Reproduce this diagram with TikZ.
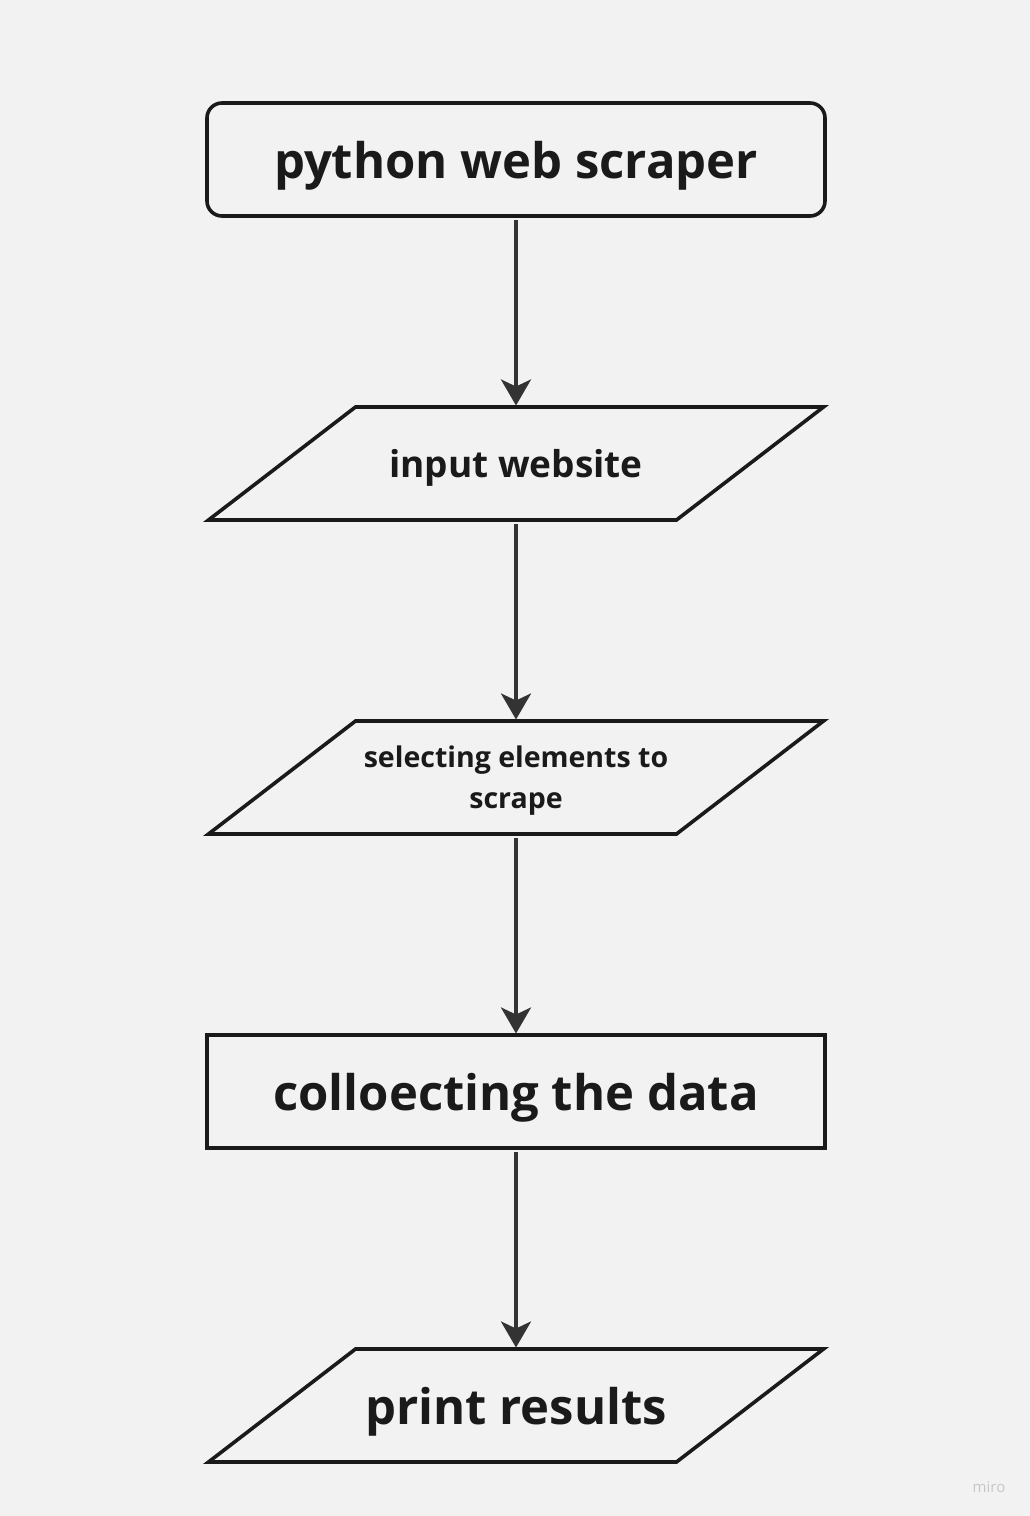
\documentclass[tikz,border=0pt]{standalone}
\usepackage{fontspec}
\setmainfont{Open Sans}
\usetikzlibrary{positioning,arrows.meta}
\definecolor{paper}{HTML}{F2F2F2}
\definecolor{ink}{HTML}{1A1A1A}
\definecolor{wire}{HTML}{333333}
\tikzset{
flow/.style={
    x=1pt,
    y=-1pt,
    node distance=201pt,
    line width=3.6pt,
    outer sep=0pt
},
start/.style={
    rectangle,
    rounded corners=15pt,
    draw=ink,
    text=ink,
    text depth=0pt,
    minimum width=618pt,
    minimum height=113pt,
    font=\fontsize{49}{58}\selectfont\bfseries
},
process/.style={
    rectangle,
    draw=ink,
    text=ink,
    text depth=0pt,
    minimum width=618pt,
    minimum height=113pt,
    font=\fontsize{49}{58}\selectfont\bfseries
},
io/.style={
    rectangle,
    text=ink,
    text depth=0pt,
    minimum width=468pt,
    minimum height=113pt,
    inner xsep=0pt
},
ioline/.style={
    draw=ink,
    line join=miter
},
goes/.style={
    draw=wire,
    -{Stealth[length=26pt,width=30pt,inset=7pt]},
    shorten <=4pt,
    shorten >=1.5pt
}}
% slanted outline round an io node
\newcommand{\ioframe}[1]{%
  \draw[ioline] ([xshift=-73.5pt]#1.south west) -- ([xshift=-73.5pt]#1.south east)
    -- ([xshift=73.5pt]#1.north east) -- ([xshift=73.5pt]#1.north west) -- cycle;}

\begin{document}
\begin{tikzpicture}[flow]
\fill[paper] (0,0) rectangle (1030,1516);
\useasboundingbox (0,0) rectangle (1030,1516);

\node    (title)   [start] at (516,159.5)       {python web scraper};
\node    (site)    [io, below=191pt of title, font=\fontsize{37}{44}\selectfont\bfseries]  {input website};
\node    (pick)    [io, below=of site, align=center, font=\fontsize{28.5}{41}\selectfont\bfseries]  {selecting elements to\\scrape};
\node    (collect) [process, below=of pick]     {colloecting the data};
\node    (output)  [io, below=of collect, font=\fontsize{49}{58}\selectfont\bfseries] {print results};

\ioframe{site}
\ioframe{pick}
\ioframe{output}

\node    (brand)   at (989,1487) [text=black!22, font=\fontsize{15}{18}\selectfont] {miro};

\path    (title)   edge[goes]    (site);
\path    (site)    edge[goes]    (pick);
\path    (pick)    edge[goes]    (collect);
\path    (collect) edge[goes]    (output);
\end{tikzpicture}
\end{document}
